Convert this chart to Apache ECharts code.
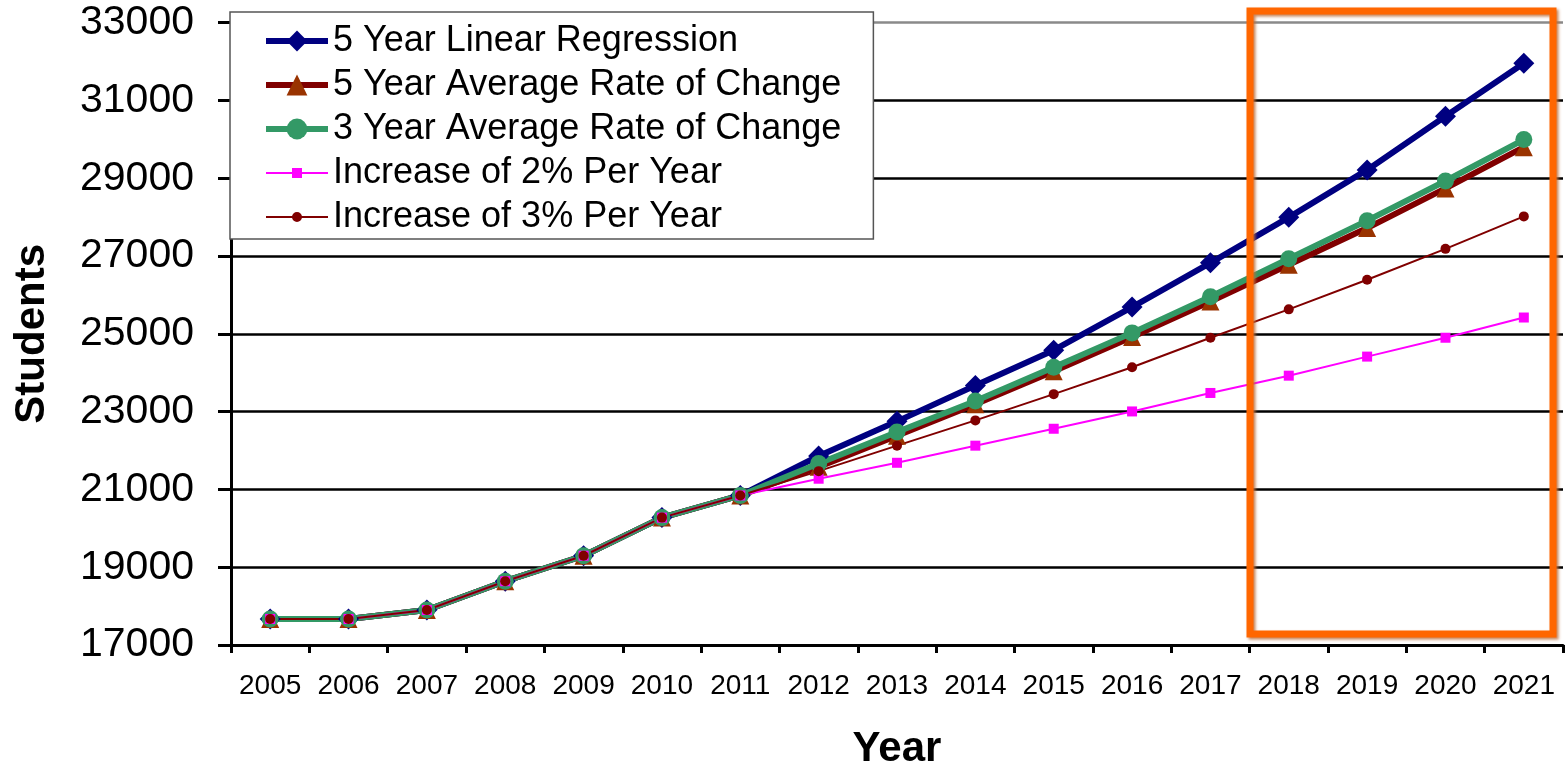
<!DOCTYPE html>
<html>
<head>
<meta charset="utf-8">
<style>
  html, body { margin: 0; padding: 0; background: #fff; }
  #chart { width: 1565px; height: 775px; }
</style>
<script src="https://cdn.jsdelivr.net/npm/echarts@6/dist/echarts.min.js"></script>
</head>
<body>
<div id="chart"></div>
<script>
// ---- Data ----
const years = ['2005','2006','2007','2008','2009','2010','2011','2012','2013','2014','2015','2016','2017','2018','2019','2020','2021'];
const yTickMin = 17000;
const yTickMax = 33000;
const yTickStep = 2000;

// enrollment history shared by every projection (2005-2011)
const history = [17670, 17670, 17900, 18640, 19295, 20275, 20845];

// projections 2012-2021
const linearRegression5 = [21860, 22750, 23670, 24580, 25690, 26825, 27995, 29215, 30595, 31960];
const avgRateChange5    = [21580, 22380, 23190, 24040, 24920, 25830, 26775, 27720, 28740, 29800];
const avgRateChange3    = [21665, 22475, 23275, 24140, 25025, 25955, 26930, 27910, 28930, 29995];
const increase2pct      = [21275, 21685, 22125, 22560, 23005, 23480, 23925, 24415, 24900, 25420];
const increase3pct      = [21470, 22125, 22775, 23450, 24140, 24900, 25630, 26390, 27185, 28020];

const seriesNames = [
  '5 Year Linear Regression',
  '5 Year Average Rate of Change',
  '3 Year Average Rate of Change',
  'Increase of 2% Per Year',
  'Increase of 3% Per Year'
];

const FONT = "'Liberation Sans', Arial, sans-serif";

const chart = echarts.init(document.getElementById('chart'), null, { renderer: 'canvas' });

function full(proj) { return history.concat(proj); }

const option = {
  backgroundColor: '#ffffff',
  animation: false,
  grid: { left: 231, right: 2, top: 22.7, bottom: 127, containLabel: false },
  legend: {
    orient: 'vertical',
    left: 230,
    top: 12,
    padding: [7, 32, 0, 33],
    itemGap: 0,
    itemWidth: 62,
    itemHeight: 26,
    backgroundColor: '#ffffff',
    borderColor: '#555555',
    borderWidth: 1.5,
    z: 20,
    textStyle: { fontFamily: FONT, fontSize: 36, color: '#000', lineHeight: 44 },
    data: [
      { name: seriesNames[0], lineStyle: { width: 6, color: '#000080' } },
      { name: seriesNames[1], lineStyle: { width: 6, color: '#800000' } },
      { name: seriesNames[2], lineStyle: { width: 6, color: '#339966' } },
      { name: seriesNames[3], icon: 'path://M0,9 L62,9 L62,11 L0,11 Z M26,5 L36,5 L36,15 L26,15 Z' },
      { name: seriesNames[4], icon: 'path://M0,9 L62,9 L62,11 L0,11 Z M31,5 A5,5 0 1 1 30.99,5 Z' }
    ]
  },
  xAxis: {
    type: 'category',
    data: years,
    boundaryGap: true,
    name: 'Year',
    nameLocation: 'middle',
    nameGap: 83,
    nameTextStyle: { fontFamily: FONT, fontSize: 42, fontWeight: 'bold', color: '#000' },
    axisLine: { show: true, lineStyle: { color: '#000', width: 3 } },
    axisTick: { show: true, inside: false, length: 8, interval: 0, alignWithLabel: false, lineStyle: { color: '#000', width: 3 } },
    axisLabel: { interval: 0, margin: 27, fontFamily: FONT, fontSize: 28, color: '#000' },
    splitLine: { show: false }
  },
  yAxis: {
    type: 'value',
    min: yTickMin,
    max: yTickMax,
    interval: yTickStep,
    name: 'Students',
    nameLocation: 'middle',
    nameRotate: 90,
    nameGap: 178,
    nameTextStyle: { fontFamily: FONT, fontSize: 42, fontWeight: 'bold', color: '#000' },
    axisLine: { show: true, lineStyle: { color: '#000', width: 3 } },
    axisTick: { show: true, inside: false, length: 13, lineStyle: { color: '#000', width: 3 } },
    axisLabel: { margin: 37, fontFamily: FONT, fontSize: 41, color: '#000', formatter: function (v) { return String(v); } },
    splitLine: {
      show: true,
      lineStyle: { color: ['#000','#000','#000','#000','#000','#000','#000','#000','#8a8a8a'], width: 2.5 }
    }
  },
  series: [
    {
      name: seriesNames[0], type: 'line', data: full(linearRegression5),
      symbol: 'diamond', symbolSize: 21, showAllSymbol: true,
      lineStyle: { color: '#000080', width: 6 },
      itemStyle: { color: '#000080' }
    },
    {
      name: seriesNames[1], type: 'line', data: full(avgRateChange5),
      symbol: 'triangle', symbolSize: 18, showAllSymbol: true,
      lineStyle: { color: '#800000', width: 6 },
      itemStyle: { color: '#993300' }
    },
    {
      name: seriesNames[2], type: 'line', data: full(avgRateChange3),
      symbol: 'circle', symbolSize: 17, showAllSymbol: true,
      lineStyle: { color: '#339966', width: 6 },
      itemStyle: { color: '#339966' }
    },
    {
      name: seriesNames[3], type: 'line', data: full(increase2pct),
      symbol: 'rect', symbolSize: 10, showAllSymbol: true,
      lineStyle: { color: '#FF00FF', width: 2 },
      itemStyle: { color: '#FF00FF' }
    },
    {
      name: seriesNames[4], type: 'line', data: full(increase3pct),
      symbol: 'circle', symbolSize: 10, showAllSymbol: true,
      lineStyle: { color: '#800000', width: 2 },
      itemStyle: { color: '#800000' }
    }
  ],
  graphic: [
    {
      type: 'rect',
      z: 100,
      shape: { x: 1250, y: 11, width: 303, height: 623 },
      style: {
        fill: null,
        stroke: '#FF6600',
        lineWidth: 7,
        shadowBlur: 3,
        shadowColor: 'rgba(190,110,60,0.85)',
        shadowOffsetX: 2,
        shadowOffsetY: 2
      }
    }
  ]
};

chart.setOption(option);
</script>
</body>
</html>
